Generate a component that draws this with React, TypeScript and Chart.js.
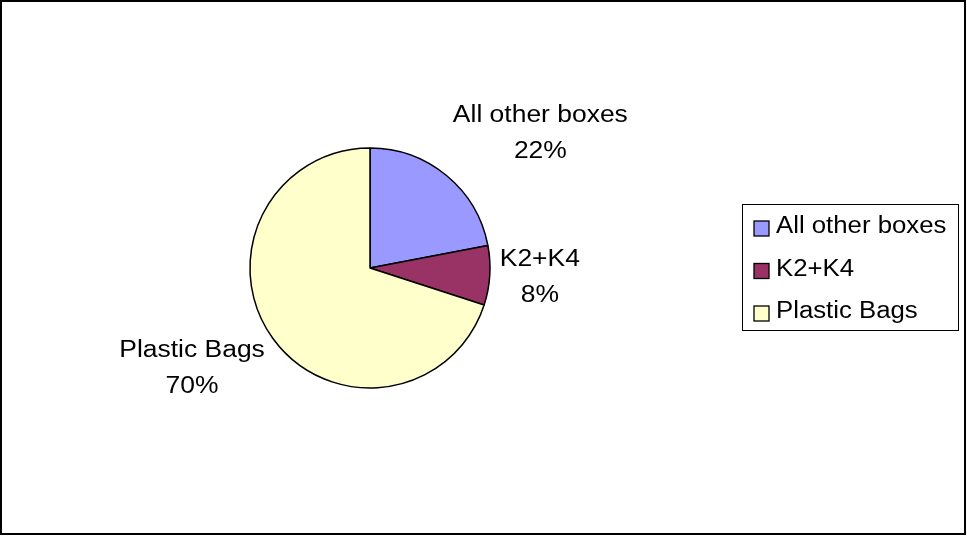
import React, { useEffect, useRef } from "react";
import { Chart, registerables } from "chart.js";

Chart.register(...registerables);

const categories = ["All other boxes", "K2+K4", "Plastic Bags"];
const values = [22, 8, 70];
const colors = ["#9999FF", "#993366", "#FFFFCC"];

const FONT = '"Liberation Sans", Arial, sans-serif';
const W = 967;
const H = 536;

const clamp = (v: number) => Math.max(-1, Math.min(1, v));

export default function App() {
  const ref = useRef<HTMLCanvasElement>(null);

  useEffect(() => {
    const canvas = ref.current!;
    const total = values.reduce((a, b) => a + b, 0);

    const framePlugin = {
      id: "frame",
      beforeDraw(chart: any) {
        const ctx = chart.ctx;
        ctx.save();
        ctx.fillStyle = "#fff";
        ctx.fillRect(0, 0, W, H);
        ctx.restore();
      },
      afterDraw(chart: any) {
        const ctx = chart.ctx;
        ctx.save();
        ctx.strokeStyle = "#000";
        ctx.lineWidth = 2;
        ctx.strokeRect(1, 1, W - 3, H - 3);

        // legend
        const lx = 742, ly = 204, lw = 216, lh = 126;
        ctx.lineWidth = 1;
        ctx.strokeRect(lx + 0.5, ly + 0.5, lw, lh);
        ctx.font = `23px ${FONT}`;
        ctx.textAlign = "left";
        ctx.textBaseline = "alphabetic";
        categories.forEach((c, i) => {
          const base = 233 + i * 42.5;
          ctx.fillStyle = colors[i];
          ctx.fillRect(754, base - 12, 15, 15);
          ctx.strokeStyle = "#000";
          ctx.lineWidth = 1.3;
          ctx.strokeRect(754, base - 12, 15, 15);
          ctx.fillStyle = "#000";
          ctx.save();
          ctx.translate(776, base);
          ctx.scale(1.12, 1);
          ctx.fillText(c, 0, 0);
          ctx.restore();
        });
        ctx.restore();
      },
      afterDatasetsDraw(chart: any) {
        const ctx = chart.ctx;
        const meta = chart.getDatasetMeta(0);
        ctx.save();
        ctx.fillStyle = "#000";
        ctx.font = `23px ${FONT}`;
        ctx.textBaseline = "alphabetic";
        ctx.textAlign = "center";
        const sx = 1.15;
        meta.data.forEach((arc: any, i: number) => {
          const { x, y, startAngle, endAngle, outerRadius } = arc.getProps(
            ["x", "y", "startAngle", "endAngle", "outerRadius"],
            true
          );
          const mid = (startAngle + endAngle) / 2;
          const r = outerRadius + 10;
          const ax = x + Math.cos(mid) * r;
          const ay = y + Math.sin(mid) * r;
          const lines = [categories[i], Math.round((values[i] / total) * 100) + "%"];
          const w = Math.max(...lines.map((l) => ctx.measureText(l).width)) * sx;
          const h = 66;
          const cx = ax + clamp(2 * Math.cos(mid)) * (w / 2);
          const cy = ay + clamp(1.3 * Math.sin(mid)) * (h / 2);
          const top = cy - h / 2;
          lines.forEach((l, j) => {
            ctx.save();
            ctx.translate(cx, top + 20 + j * 36);
            ctx.scale(sx, 1);
            ctx.fillText(l, 0, 0);
            ctx.restore();
          });
        });
        ctx.restore();
      },
    };

    const chart = new Chart(canvas, {
      type: "pie",
      data: {
        labels: categories,
        datasets: [
          {
            data: values,
            backgroundColor: colors,
            borderColor: "#000",
            borderWidth: 1.5,
          },
        ],
      },
      options: {
        responsive: false,
        animation: false,
        devicePixelRatio: 1,
        radius: 120,
        layout: { padding: { left: 0, right: 227, top: 0, bottom: 0 } },
        plugins: {
          legend: { display: false },
          tooltip: { enabled: false },
        },
        events: [],
      } as any,
      plugins: [framePlugin],
    });
    return () => chart.destroy();
  }, []);

  return (
    <div style={{ position: "absolute", left: 0, top: 0, width: W, height: H }}>
      <canvas ref={ref} width={W} height={H} style={{ display: "block" }} />
    </div>
  );
}
